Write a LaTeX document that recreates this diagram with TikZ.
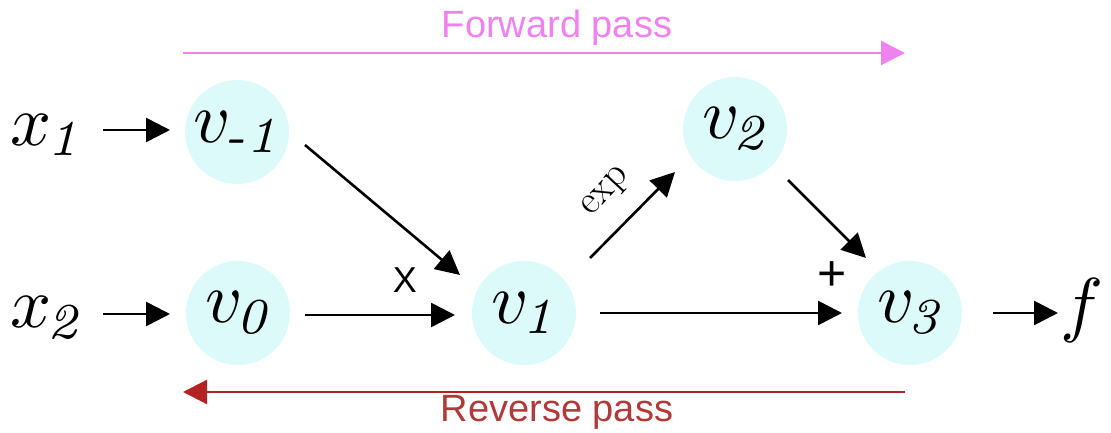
\documentclass[tikz,border=0pt]{standalone}
\usepackage{amsmath}
\usepackage{fontspec}
\setsansfont{Liberation Sans}
\usetikzlibrary{arrows.meta}
\definecolor{nodefill}{HTML}{DDFAFA}
\definecolor{fwdcol}{HTML}{EE82EE}
\definecolor{revcol}{HTML}{B22222}
\definecolor{revtext}{HTML}{B03A3A}
\newcommand{\hugemath}[1]{\scalebox{7.2}{$#1$}}
\newcommand{\subit}[1]{\kern-0.6pt\textit{#1}}
\begin{document}
\begin{tikzpicture}[x=1pt,y=-1pt,
  vnode/.style={circle,fill=nodefill,minimum size=104pt,inner sep=0pt},
  xnode/.style={inner sep=0pt},
  conn/.style={line width=2.6pt,-{Triangle[length=24pt,width=24pt]}},
  passarrow/.style={line width=2.2pt,-{Triangle[length=24pt,width=24pt]}},
  lab/.style={inner sep=0pt,font=\sffamily\fontsize{36}{40}\selectfont},
  passlab/.style={inner sep=0pt,font=\sffamily\fontsize{38}{42}\selectfont}]
\useasboundingbox (0,0) rectangle (1111,433);
% nodes
\node[xnode] (x1) at (46,135) {\hugemath{x_{\subit{1}}}};
\node[xnode] (x2) at (46,318) {\hugemath{x_{\subit{2}}}};
\node[vnode] (vm1) at (237,132) {\hugemath{v_{\subit{-1}}}};
\node[vnode] (v0) at (238,313) {\hugemath{v_{\subit{0}}}};
\node[vnode] (v1) at (524,313) {\hugemath{v_{\subit{1}}}};
\node[vnode] (v2) at (735,129) {\hugemath{v_{\subit{2}}}};
\node[vnode] (v3) at (910,313) {\hugemath{v_{\subit{3}}}};
\node[xnode] (f) at (1082,310) {\hugemath{f}};
% connectors
\draw[conn] ([shift={(57,-5)}]x1.center) -- ([shift={(-67,-2)}]vm1.center);
\draw[conn] ([shift={(57,-4)}]x2.center) -- ([shift={(-68,1)}]v0.center);
\draw[conn] ([shift={(68,13)}]vm1.center) -- ([shift={(-64,-38)}]v1.center);
\draw[conn] ([shift={(67,2)}]v0.center) -- ([shift={(-69,2)}]v1.center);
\draw[conn] ([shift={(66,-55)}]v1.center) -- ([shift={(-60,43)}]v2.center);
\draw[conn] ([shift={(53,51)}]v2.center) -- ([shift={(-44,-55)}]v3.center);
\draw[conn] ([shift={(76,0)}]v1.center) -- ([shift={(-68,0)}]v3.center);
\draw[conn] ([shift={(83,0)}]v3.center) -- ([shift={(-24,3)}]f.center);
% labels
\node[lab] (times) at (405,280) {X};
\node[inner sep=0pt,font=\sffamily\fontsize{50}{54}\selectfont] (plus) at (832,276) {+};
\node[inner sep=0pt,rotate=47,font=\fontsize{40}{44}\selectfont] (exp) at (607,193) {exp};
% passes
\coordinate (fs) at (183,53);
\coordinate (fe) at (905,53);
\coordinate (rs) at (905,392);
\coordinate (re) at (183,392);
\draw[passarrow,fwdcol] (fs) -- (fe);
\draw[passarrow,revcol] (rs) -- (re);
\node[passlab,text=fwdcol] (fwd) at (557,28) {Forward pass};
\node[passlab,text=revtext] (rev) at (557,412) {Reverse pass};
\end{tikzpicture}
\end{document}
